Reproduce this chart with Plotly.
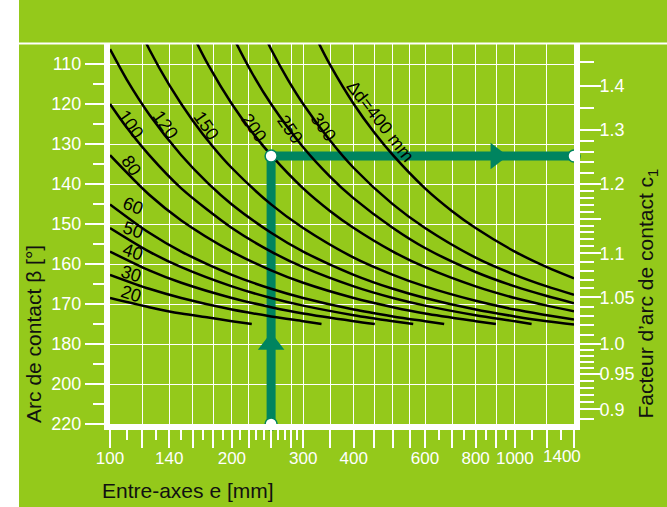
import numpy as np
import plotly.graph_objects as go

GREEN = "#94c91b"
TEAL = "#00845f"

# ---------------- scales / tick labels ----------------
beta_ticks = [110, 120, 130, 140, 150, 160, 170, 180, 200, 220]          # left axis labels
beta_minor = [115, 125, 135, 145, 155, 165, 175, 190, 210]                # left axis minor ticks
c1_ticks = [1.4, 1.3, 1.2, 1.1, 1.05, 1.0, 0.95, 0.9]                      # right axis labels
c1_beta = [115.4, 126.5, 140.0, 157.3, 168.3, 180.0, 195.0, 212.6]        # beta level of each c1 label
c1_scale = [1.45] + c1_ticks + [0.89]
c1_scale_beta = [109.6] + c1_beta + [217.6]
c1_long = [1.15]
c1_minor = [0.89, 0.91, 0.92, 0.93, 0.94, 0.96, 0.97, 0.98, 0.99,
            1.01, 1.02, 1.03, 1.04, 1.06, 1.07, 1.08, 1.09,
            1.11, 1.12, 1.13, 1.14, 1.16, 1.17, 1.18, 1.19,
            1.22, 1.24, 1.26, 1.28, 1.35, 1.45]

e_labels = [100, 140, 200, 300, 400, 600, 800, 1000, 1400]
e_grid = [120, 140, 160, 180, 200, 220, 250, 280, 300, 350, 400, 450, 500,
          550, 600, 700, 800, 900, 1000, 1200]
e_minor = [110, 130, 150, 170, 190, 210, 230, 240, 260, 270, 290,
           650, 750, 850, 950, 1100, 1300]

# ---------------- curves: centre distance e [mm] vs arc of contact beta [deg] ----------------
E20 = [100, 125, 150, 175, 200, 224]
B20 = [168.5, 170.8, 172.4, 173.4, 174.3, 175.0]
E30 = [100, 125, 150, 200, 250, 300, 333]
B30 = [162.7, 166.2, 168.5, 171.4, 173.1, 174.3, 175.0]
E40 = [100, 125, 150, 200, 250, 300, 400, 451]
B40 = [156.9, 161.6, 164.7, 168.5, 170.8, 172.4, 174.3, 175.0]
E50 = [100, 125, 150, 200, 250, 300, 400, 500, 561]
B50 = [151.0, 156.9, 160.8, 165.6, 168.5, 170.4, 172.8, 174.3, 175.0]
E60 = [100, 125, 150, 200, 250, 300, 400, 500, 600, 669]
B60 = [145.1, 152.2, 156.9, 162.7, 166.2, 168.5, 171.4, 173.1, 174.3, 175.0]
E80 = [100, 125, 150, 200, 250, 300, 400, 500, 600, 800, 898]
B80 = [132.8, 142.7, 149.1, 156.9, 161.6, 164.7, 168.5, 170.8, 172.4, 174.3, 175.0]
E100 = [100, 110, 125, 150, 200, 250, 300, 400, 500, 600, 800, 1000, 1100]
B100 = [120.0, 125.9, 132.8, 141.1, 151.0, 156.9, 160.8, 165.6, 168.5, 170.4, 172.8, 174.3, 175.0]
E120 = [100, 110, 125, 150, 175, 200, 250, 300, 400, 500, 600, 800, 1000, 1200, 1400]
B120 = [106.3, 113.9, 122.6, 132.8, 139.9, 145.1, 152.2, 156.9, 162.7, 166.2, 168.5, 171.4, 173.1, 174.3, 175.1]
E150 = [115, 125, 140, 160, 180, 200, 250, 300, 400, 500, 600, 800, 1000, 1200, 1400]
B150 = [98.6, 106.3, 115.2, 124.1, 130.8, 136.0, 145.1, 151.0, 158.4, 162.7, 165.6, 169.2, 171.4, 172.8, 173.9]
E200 = [150, 160, 175, 200, 225, 250, 300, 350, 400, 500, 600, 800, 1000, 1200, 1400]
B200 = [96.4, 102.6, 110.3, 120.0, 127.2, 132.8, 141.1, 146.8, 151.0, 156.9, 160.8, 165.6, 168.5, 170.4, 171.8]
E250 = [190, 200, 225, 250, 300, 350, 400, 500, 600, 800, 1000, 1200, 1400]
B250 = [97.7, 102.6, 112.5, 120.0, 130.8, 138.2, 143.6, 151.0, 156.0, 162.0, 165.6, 168.0, 169.8]
E300 = [230, 250, 275, 300, 350, 400, 500, 600, 800, 1000, 1200, 1400]
B300 = [98.6, 106.3, 113.9, 120.0, 129.2, 136.0, 145.1, 151.0, 158.4, 162.7, 165.6, 167.7]
E400 = [300, 325, 350, 400, 450, 500, 600, 700, 800, 1000, 1200, 1400]
B400 = [96.4, 104.0, 110.3, 120.0, 127.2, 132.8, 141.1, 146.8, 151.0, 156.9, 160.8, 163.6]

curve_e = [E20, E30, E40, E50, E60, E80, E100, E120, E150, E200, E250, E300, E400]
curve_b = [B20, B30, B40, B50, B60, B80, B100, B120, B150, B200, B250, B300, B400]

curve_labels = ["20", "30", "40", "50", "60", "80", "100", "120", "150", "200", "250", "300", "∆d=400 mm"]
label_e = [113, 113, 114, 114, 114, 113, 112.5, 137, 173, 227, 278, 336, 467]
label_b = [167.5, 162.5, 156.9, 151.5, 145.5, 135.5, 125.0, 125.3, 125.5, 125.9, 126.3, 125.8, 124.5]
label_angle = [18, 18, 18, 18, 22, 55, 55, 55, 55, 55, 55, 55, 52]

# example reading path
path_e = [250, 250, 1400]
path_b = [220, 133, 133]
arrow_e = [250, 900]
arrow_b = [180, 133]


def bpos(b):
    b = np.asarray(b, dtype=float)
    return np.where(b < beta_ticks[0], (b - beta_ticks[0]) / 10.0,
                    np.interp(b, beta_ticks, np.arange(len(beta_ticks))))


def c1pos(c):
    cs = np.array(c1_scale)
    order = np.argsort(cs)
    return np.interp(c, cs[order], bpos(c1_scale_beta)[order])


fig = go.Figure()

# reading path (under curves)
fig.add_trace(go.Scatter(x=path_e, y=bpos(path_b), mode="lines",
                         line=dict(color=TEAL, width=9), hoverinfo="skip"))

for e, b in zip(curve_e, curve_b):
    fig.add_trace(go.Scatter(x=e, y=bpos(b), mode="lines",
                             line=dict(color="black", width=2.5, shape="spline", smoothing=0.8),
                             hoverinfo="skip"))

fig.add_trace(go.Scatter(x=arrow_e, y=bpos(arrow_b), mode="markers",
                         marker=dict(symbol=["triangle-up", "triangle-right"], size=23, color=TEAL),
                         cliponaxis=False, hoverinfo="skip"))
fig.add_trace(go.Scatter(x=path_e, y=bpos(path_b), mode="markers",
                         marker=dict(symbol="circle", size=12, color="white",
                                     line=dict(color=TEAL, width=1.5)),
                         cliponaxis=False, hoverinfo="skip"))
# dummy trace to activate right axis
fig.add_trace(go.Scatter(x=[1000], y=[c1pos(1.0)], yaxis="y2", mode="markers",
                         marker=dict(opacity=0), hoverinfo="skip"))

for txt, le, lb, ang in zip(curve_labels, label_e, label_b, label_angle):
    fig.add_annotation(x=np.log10(le), y=float(bpos(lb)), xref="x", yref="y", text=txt,
                       textangle=ang, showarrow=False, xanchor="center", yanchor="middle",
                       font=dict(size=18, color="black"))

x_major = sorted(set(e_labels) | set(e_grid))
x_text = [str(v) if (v in e_labels and v != 1400) else " " for v in x_major]

FONT = "Liberation Sans, Arial, sans-serif"

fig.update_layout(
    width=667, height=507,
    margin=dict(l=110, r=93, t=44, b=83, pad=0),
    paper_bgcolor=GREEN, plot_bgcolor=GREEN,
    font=dict(family=FONT, color="white", size=18),
    showlegend=False,
    xaxis=dict(type="log", range=[2, np.log10(1400)], tickmode="array",
               tickvals=x_major, ticktext=x_text, ticks="outside", ticklen=18,
               tickwidth=1.5, tickcolor="white", showgrid=True, gridcolor="white",
               gridwidth=1.3, showline=True, linecolor="white", linewidth=6,
               zeroline=False, automargin=False, tickangle=0, ticklabelstandoff=-4,
               tickfont=dict(size=17, color="white"),
               minor=dict(tickmode="array", tickvals=e_minor, ticks="outside",
                          ticklen=10, tickwidth=1.5, tickcolor="white", showgrid=False)),
    yaxis=dict(range=[9, -0.5], tickmode="array", tickvals=bpos(beta_ticks).tolist(),
               ticktext=[str(v) for v in beta_ticks], ticks="outside", ticklen=19,
               tickwidth=1.5, tickcolor="white", showgrid=True, gridcolor="white",
               gridwidth=1.3, showline=True, linecolor="white", linewidth=6,
               zeroline=False, automargin=False, tickfont=dict(size=18, color="white"),
               minor=dict(tickmode="array", tickvals=bpos(beta_minor).tolist(),
                          ticks="outside", ticklen=11, tickwidth=1.5,
                          tickcolor="white", showgrid=False)),
    yaxis2=dict(overlaying="y", side="right", range=[9, -0.5], tickmode="array",
                tickvals=c1pos(c1_ticks + c1_long).tolist(),
                ticktext=["1.4", "1.3", "1.2", "1.1", "1.05", "1.0", "0.95", "0.9", " "],
                ticks="outside", ticklen=21, tickwidth=1.5, tickcolor="white",
                showgrid=False, showline=True, linecolor="white", linewidth=6,
                zeroline=False, automargin=False, ticklabelstandoff=-5,
                tickfont=dict(size=18, color="white"),
                minor=dict(tickmode="array", tickvals=c1pos(c1_minor).tolist(),
                           ticks="outside", ticklen=14, tickwidth=1.5,
                           tickcolor="white", showgrid=False)),
    shapes=[
        dict(type="rect", xref="paper", yref="paper", x0=-0.4, x1=(19 - 110) / 464,
             y0=-0.4, y1=1.4, fillcolor="white", line=dict(width=0), layer="below"),
        dict(type="line", xref="paper", yref="paper", x0=(19 - 110) / 464, x1=1.3,
             y0=1.0013, y1=1.0013, line=dict(color="white", width=2)),
    ],
)

fig.add_annotation(x=np.log10(1400), y=-0.092, xref="x", yref="paper", text="1400",
                   showarrow=False, xshift=-12, yshift=2, xanchor="center", yanchor="middle",
                   font=dict(size=17, color="white"))
fig.add_annotation(x=-0.1638, y=0.237, xref="paper", yref="paper",
                   text="Arc de contact β [°]", textangle=-90, showarrow=False,
                   xanchor="center", yanchor="middle",
                   font=dict(size=21, color="#111111"))
fig.add_annotation(x=0.168, y=-0.176, xref="paper", yref="paper",
                   text="Entre-axes e [mm]", showarrow=False,
                   xanchor="center", yanchor="middle",
                   font=dict(size=21, color="#111111"))
fig.add_annotation(x=1.157, y=0.343, xref="paper", yref="paper",
                   text="Facteur d’arc de contact c<sub>1</sub>", textangle=-90, showarrow=False,
                   xanchor="center", yanchor="middle",
                   font=dict(size=21, color="#111111"))

fig.write_html("out.html", config={"displayModeBar": False},
               post_script="document.body.style.margin='0px';document.body.style.overflow='hidden';")
